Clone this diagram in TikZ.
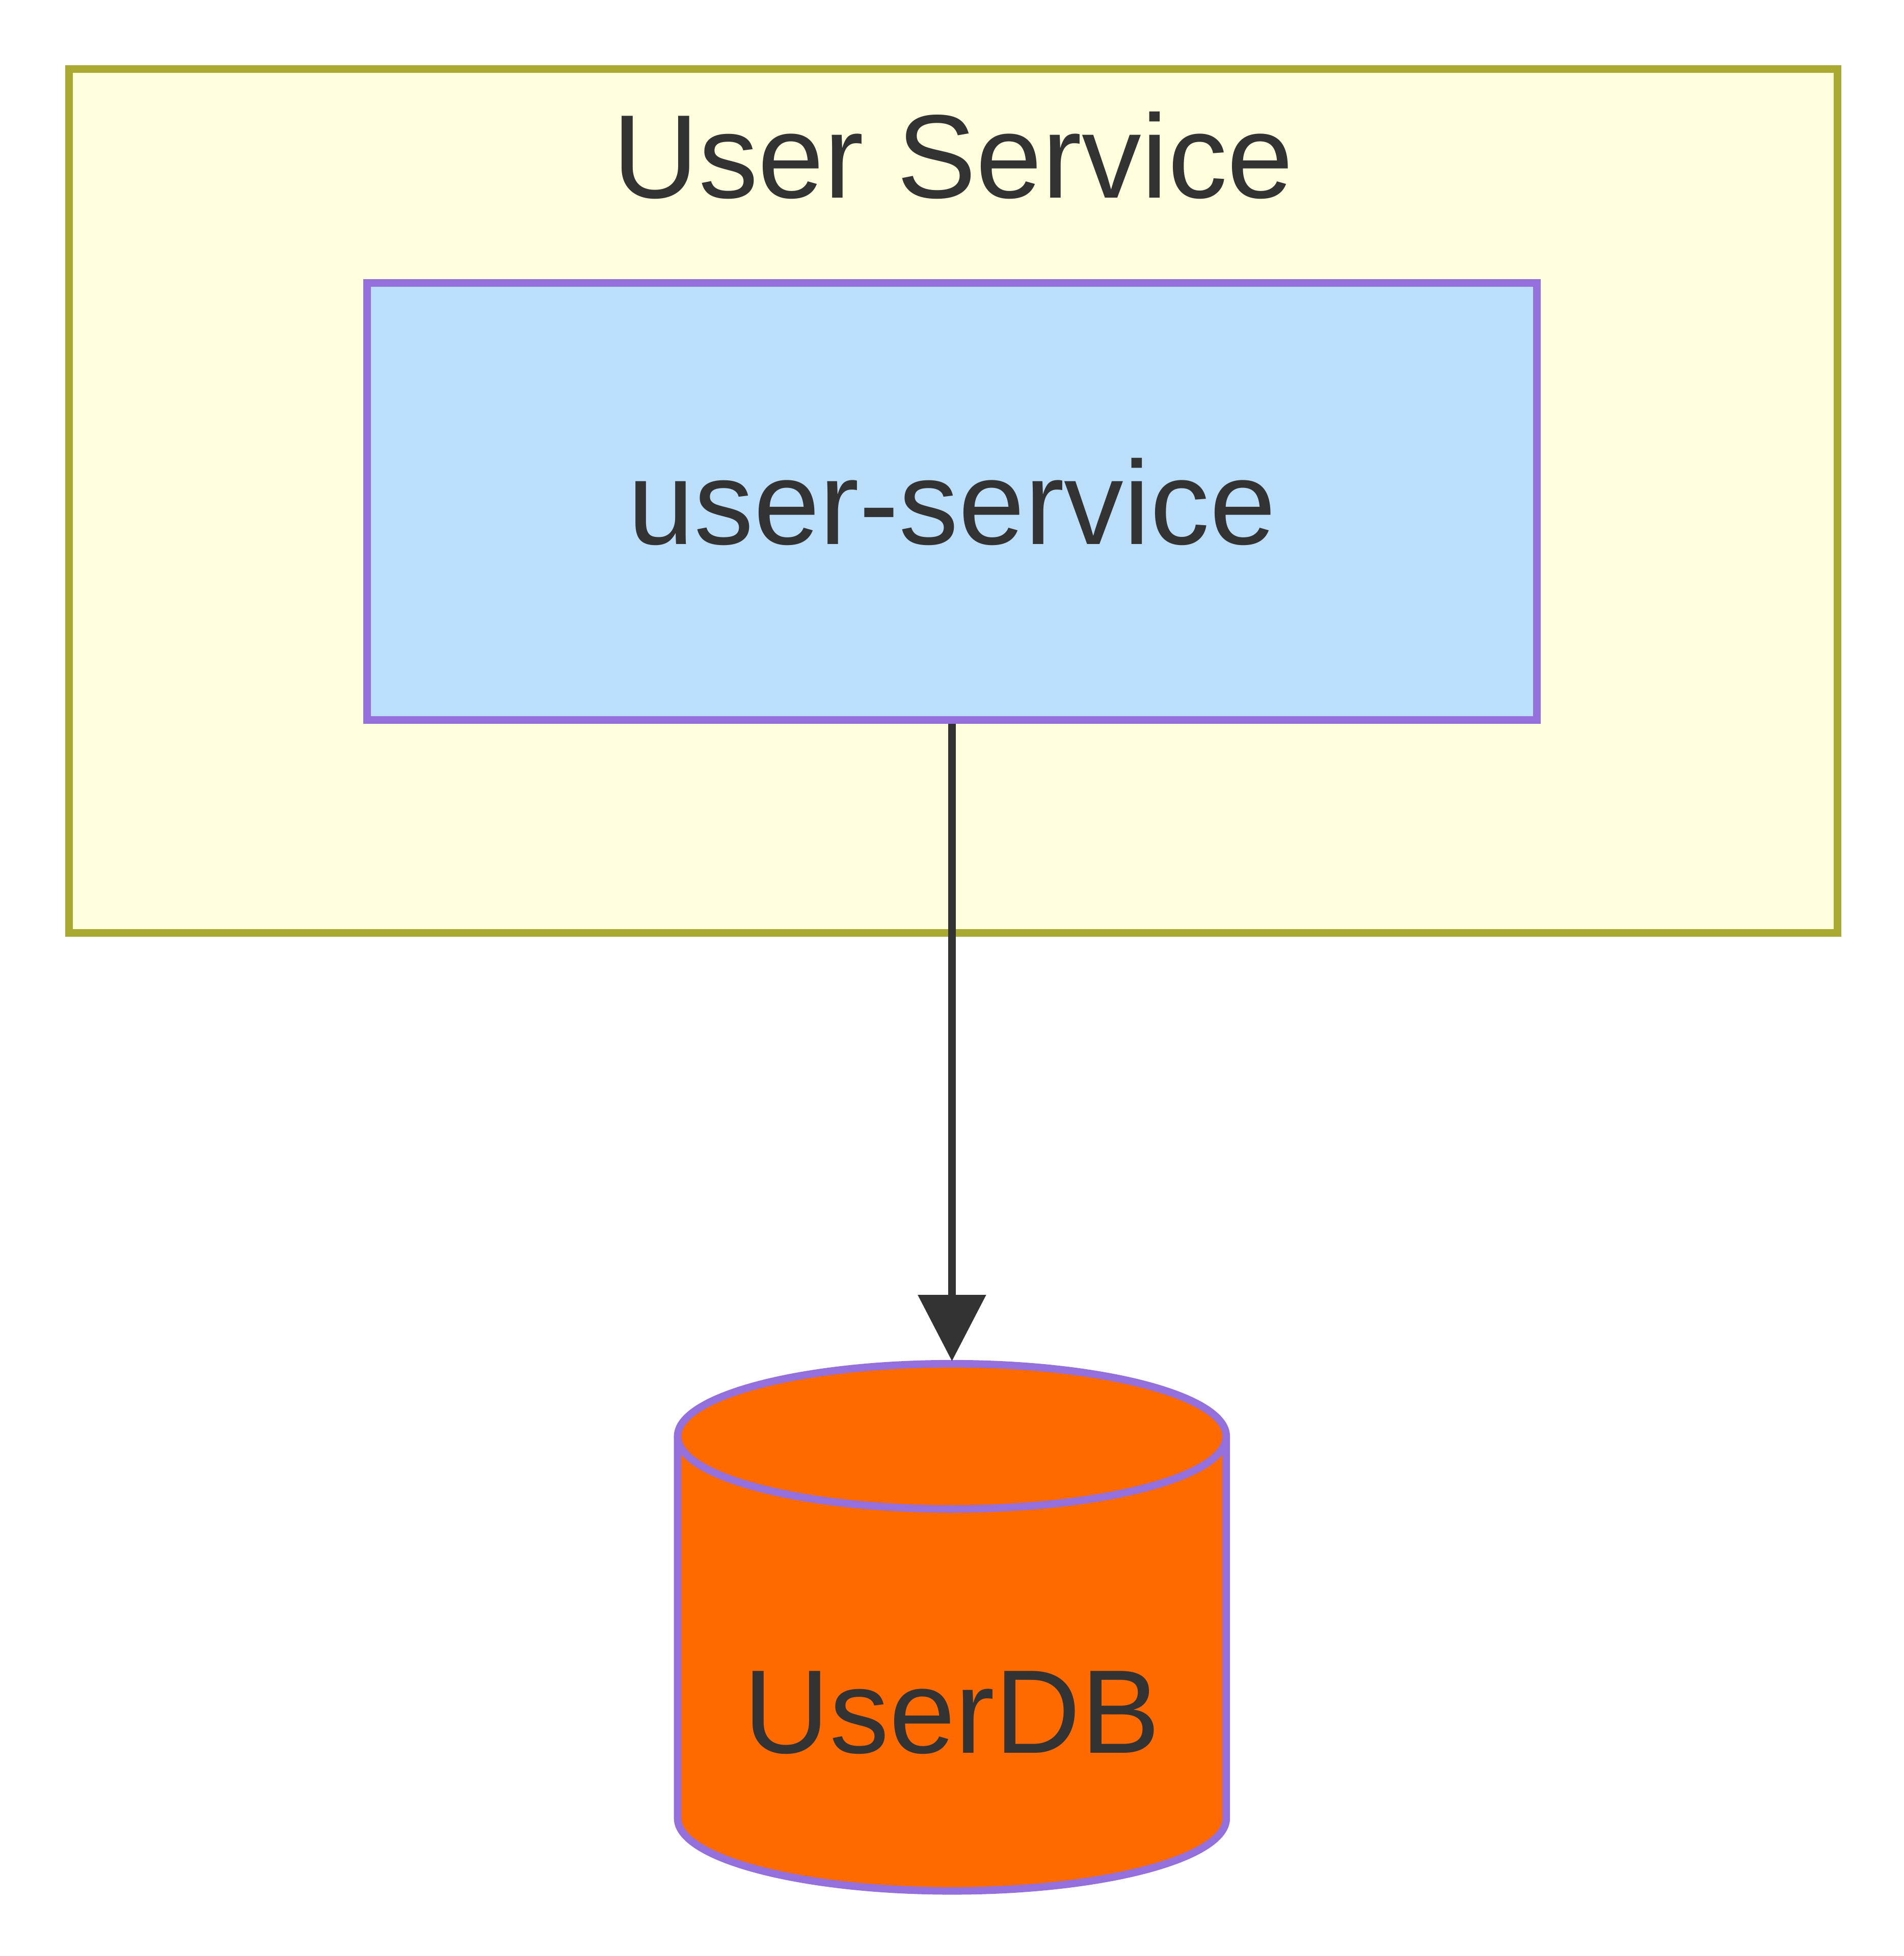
\documentclass[tikz,border=0pt]{standalone}
\usepackage{fontspec}
\setmainfont{Liberation Sans}
\usepackage{tikz}
\usetikzlibrary{positioning,arrows.meta}
\definecolor{grpfill}{HTML}{FFFFDE}
\definecolor{grpline}{HTML}{AAAA33}
\definecolor{svcfill}{HTML}{BBDEFB}
\definecolor{nodeline}{HTML}{9370DB}
\definecolor{dbfill}{HTML}{FF6A00}
\definecolor{ink}{HTML}{333333}

\begin{document}
\begin{tikzpicture}[x=0.5pt, y=-0.5pt,
    every node/.style={font=\fontsize{47.5pt}{57pt}\selectfont, text=ink},
    grpbox/.style={draw=grpline, fill=grpfill, line width=3pt, minimum width=706pt, minimum height=345pt, inner sep=0pt},
    svcbox/.style={draw=nodeline, fill=svcfill, line width=3pt, minimum width=467pt, minimum height=174.5pt, inner sep=0pt},
    conn/.style={draw=ink, line width=3.2pt, -{Triangle[length=26.5pt, width=26.5pt]}}]
    \useasboundingbox (0,0) rectangle (1520,1562);
    \node[grpbox] (usergrp) at (761,400) {};
    \node[anchor=base] (grptitle) at (761,158) {User Service};
    \node[svcbox] (usersvc) at (760,400.5) {user-service};

    \draw[fill=dbfill, draw=nodeline, line width=3pt] (541,1147) -- (541,1452)
        arc[start angle=180, end angle=0, x radius=219, y radius=58] -- (979,1147)
        arc[start angle=0, end angle=-180, x radius=219, y radius=58] -- cycle;
    \draw[draw=nodeline, line width=3pt] (541,1147)
        arc[start angle=180, end angle=0, x radius=219, y radius=58];
    \node[anchor=base] (userdb) at (760,1400) {UserDB};
    \coordinate (dbtop) at (760,1087);

    \draw[conn] (usersvc.south) -- (dbtop);
\end{tikzpicture}
\end{document}
